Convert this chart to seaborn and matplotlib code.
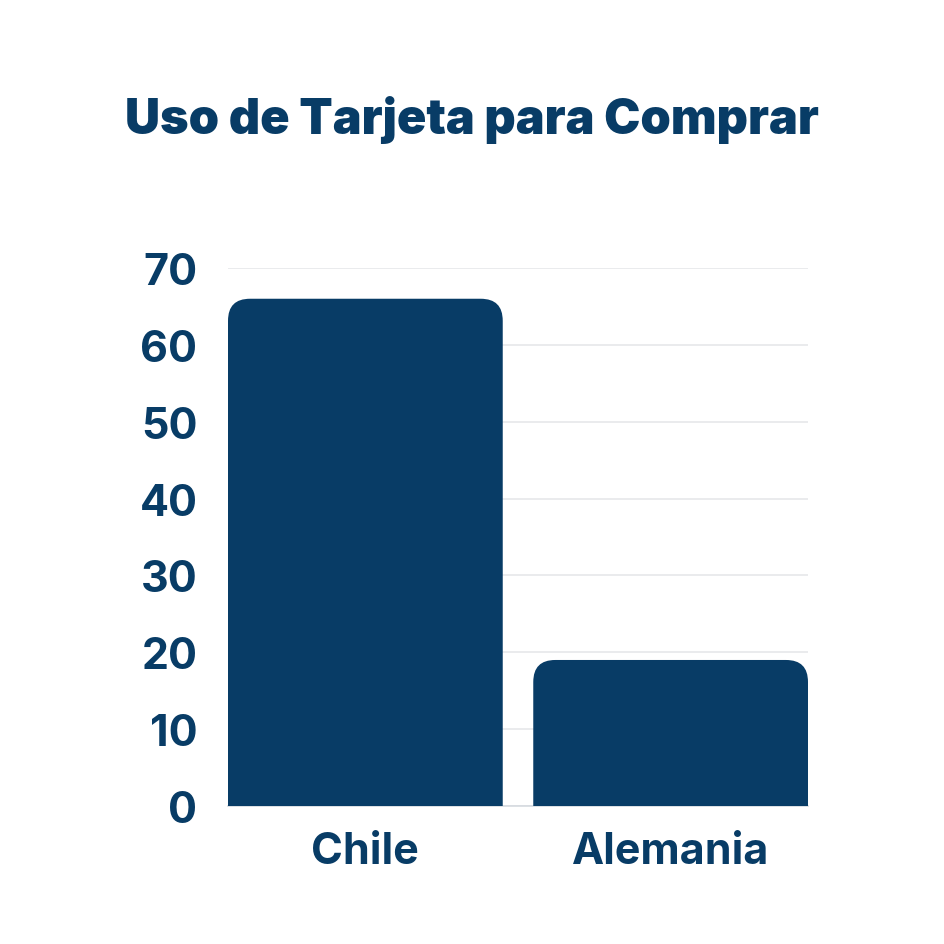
import matplotlib
matplotlib.use("Agg")
import matplotlib.pyplot as plt
import seaborn as sns
import pandas as pd
from matplotlib.patches import FancyBboxPatch

categories = ["Chile", "Alemania"]
values = [66, 19]
yticks = [0, 10, 20, 30, 40, 50, 60, 70]
title = "Uso de Tarjeta para Comprar"

color = "#083C66"

sns.set_theme(style="white")
plt.rcParams['font.family'] = ['Inter', 'DejaVu Sans']

df = pd.DataFrame({"pais": categories, "valor": values})

fig = plt.figure(figsize=(9.45, 9.45), dpi=100)
ax = fig.add_axes([228/945, 1-807/945, 580/945, 538/945])

sns.barplot(data=df, x="pais", y="valor", color=color, width=0.9, saturation=1, ax=ax, zorder=3)

ax.set_xlim(-0.45, 1.45)
ax.set_ylim(0, 70)

# Replace bars with rounded-top versions
px_per_x = 580 / 1.9
px_per_y = 538 / 70
radius_px = 22
r_x = radius_px / px_per_x
aspect = px_per_x / px_per_y
for p in list(ax.patches):
    x0, y0 = p.get_x(), p.get_y()
    w, h = p.get_width(), p.get_height()
    ext = radius_px / px_per_y
    fb = FancyBboxPatch((x0, y0 - ext), w, h + ext,
                        boxstyle=f"round,pad=0,rounding_size={r_x}",
                        mutation_aspect=aspect, facecolor=color,
                        edgecolor="none", zorder=3)
    ax.add_patch(fb)
    p.remove()

ax.set_yticks(yticks)
ax.yaxis.grid(True, color="#E6E8EA", linewidth=1.2, zorder=0)
ax.set_axisbelow(True)
for s in ["top", "right", "left"]:
    ax.spines[s].set_visible(False)
ax.spines["bottom"].set_color("#D5DADF")
ax.spines["bottom"].set_linewidth(1.2)

ax.tick_params(axis="both", length=0, labelsize=31, labelcolor=color)
ax.tick_params(axis="y", pad=22)
ax.tick_params(axis="x", pad=18)
for lab in ax.get_xticklabels() + ax.get_yticklabels():
    lab.set_fontweight("bold")
ax.set_xlabel("")
ax.set_ylabel("")

fig.text(472/945, 1-120/945, title, ha="center", va="center",
         fontsize=35, fontweight="black", color=color)

fig.savefig("out.png", dpi=100, facecolor="white")
